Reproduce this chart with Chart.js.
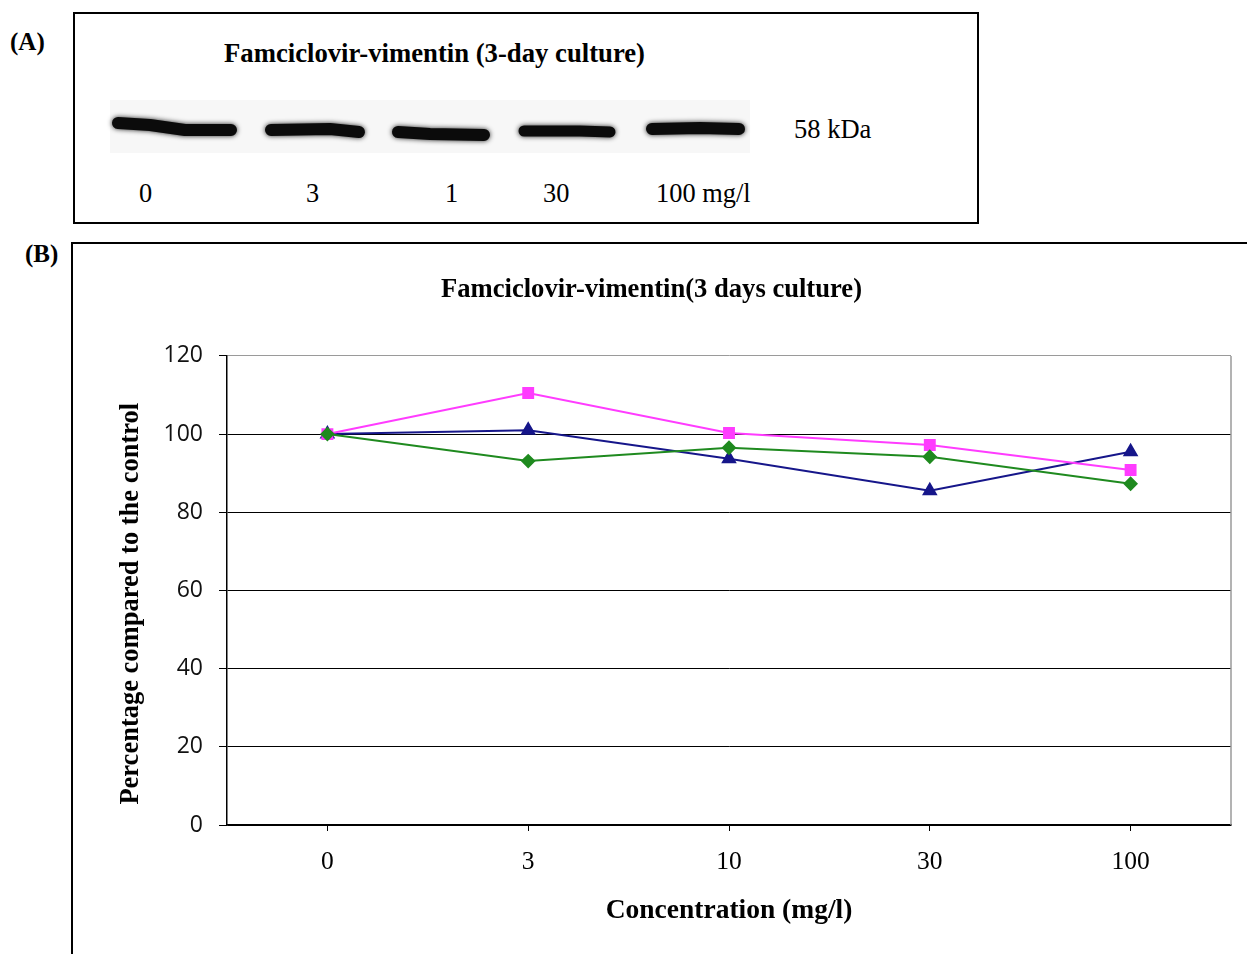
<!DOCTYPE html>
<html>
<head>
<meta charset="utf-8">
<script src="https://cdn.jsdelivr.net/npm/chart.js@4.4.1/dist/chart.umd.min.js"></script>
<style>
  html, body { margin:0; padding:0; background:#fff; width:1247px; height:954px; overflow:hidden; }
  body { position:relative; font-family:"Liberation Serif","Times New Roman",serif; color:#000; }
  .lbl { position:absolute; white-space:nowrap; line-height:1; transform:translateY(-50%); }
  .bold { font-weight:bold; }
  #boxA { position:absolute; left:73px; top:12px; width:902px; height:208px; border:2px solid #000; }
  #blot { position:absolute; left:100px; top:90px; }
  #panelB { position:absolute; left:72px; top:243px; width:1175px; height:711px; }
  #lineTop { position:absolute; left:71px; top:242px; width:1176px; height:2px; background:#000; }
  #lineLeft { position:absolute; left:71px; top:242px; width:2px; height:712px; background:#000; }
</style>
</head>
<body>
<div id="boxA"></div>
<canvas id="blot" width="670" height="75"></canvas>
<div class="lbl bold" style="left:10px;top:41px;font-size:25px;">(A)</div>
<div class="lbl bold" style="left:224px;top:53px;font-size:26.7px;">Famciclovir-vimentin (3-day culture)</div>
<div class="lbl" style="left:794px;top:129px;font-size:26.5px;">58 kDa</div>
<div id="laneLabels"></div>
<div class="lbl bold" style="left:25px;top:253px;font-size:25px;">(B)</div>
<div id="lineTop"></div>
<div id="lineLeft"></div>
<div id="panelB"><canvas id="c" width="1175" height="711"></canvas></div>
<script>
// ---- data ----
const categories = ['0', '3', '10', '30', '100'];
const seriesGreen = [100, 93.1, 96.5, 94.2, 87.3];
const seriesPink  = [100, 110.5, 100.3, 97.2, 90.8];
const seriesBlue  = [100, 101.0, 93.7, 85.5, 95.5];
const yTickMin = 0, yTickMax = 120, yTickStep = 20;
const blotLaneLabels = ['0', '3', '1', '30', '100 mg/l'];

// ---- panel A lane labels and blot bands (image-like decoration) ----
const laneLabelX = [139, 306, 445, 543, 656];
const laneBox = document.getElementById('laneLabels');
blotLaneLabels.forEach((t, i) => {
  const d = document.createElement('div');
  d.className = 'lbl';
  d.style.left = laneLabelX[i] + 'px';
  d.style.top = '193px';
  d.style.fontSize = '26.4px';
  d.textContent = t;
  laneBox.appendChild(d);
});
(function drawBlot() {
  const cv = document.getElementById('blot');
  const ctx = cv.getContext('2d');
  const ox = 100, oy = 90;
  ctx.fillStyle = '#f7f7f7';
  ctx.fillRect(110 - ox, 100 - oy, 640, 53);
  const bands = [
    [[[118, 123], [150, 125], [185, 130], [231, 130]], 12],
    [[[271, 130], [330, 129], [359, 132]], 12],
    [[[398, 132], [430, 134], [484, 135]], 12],
    [[[524, 131], [580, 131], [610, 132]], 11],
    [[[652, 129], [700, 128], [739, 129]], 12]
  ];
  ctx.lineCap = 'round';
  ctx.lineJoin = 'round';
  ctx.strokeStyle = '#0b0b0b';
  ctx.shadowColor = 'rgba(0,0,0,0.85)';
  ctx.shadowBlur = 5;
  bands.forEach(([pts, w]) => {
    ctx.lineWidth = w;
    ctx.beginPath();
    pts.forEach(([x, y], i) => i ? ctx.lineTo(x - ox, y - oy) : ctx.moveTo(x - ox, y - oy));
    ctx.stroke();
  });
})();

// ---- chart ----
const frame = {
  id: 'frame',
  afterDraw(chart) {
    const {ctx, chartArea: a} = chart;
    ctx.save();
    ctx.strokeStyle = '#9a9a9a';
    ctx.lineWidth = 1.5;
    ctx.beginPath();
    ctx.moveTo(a.right, a.top);
    ctx.lineTo(a.right, a.bottom);
    ctx.stroke();
    ctx.restore();
  }
};

new Chart(document.getElementById('c'), {
  type: 'line',
  data: {
    labels: categories,
    datasets: [
      { label: 'Series 1', data: seriesGreen, borderColor: '#1f8a1f', backgroundColor: '#1f8a1f',
        borderWidth: 2, pointStyle: 'rectRot', pointRadius: 6, pointHoverRadius: 6, tension: 0 },
      { label: 'Series 2', data: seriesPink, borderColor: '#ff3cff', backgroundColor: '#ff3cff',
        borderWidth: 2, pointStyle: 'rect', pointRadius: 7, pointHoverRadius: 7, tension: 0 },
      { label: 'Series 3', data: seriesBlue, borderColor: '#16168a', backgroundColor: '#16168a',
        borderWidth: 2, pointStyle: 'triangle', pointRadius: 7, pointHoverRadius: 7, tension: 0 }
    ]
  },
  options: {
    responsive: false,
    animation: false,
    events: [],
    layout: { padding: { left: 0, right: 16, top: 0, bottom: 0 } },
    plugins: {
      legend: { display: false },
      tooltip: { enabled: false },
      title: {
        display: true,
        text: 'Famciclovir-vimentin(3 days culture)',
        color: '#000',
        font: { family: 'Liberation Serif', size: 26.6, weight: 'bold', lineHeight: 1.2 },
        padding: { top: 31, bottom: 50 }
      }
    },
    scales: {
      x: {
        type: 'category',
        offset: true,
        afterFit(s) { s.height = 129; },
        grid: { drawOnChartArea: false, drawTicks: true, tickLength: 6, color: '#000', offset: false },
        border: { display: true, color: '#000', width: 1.5 },
        ticks: { color: '#000', padding: 16, font: { family: 'Liberation Serif', size: 25.5 } },
        title: { display: true, text: 'Concentration (mg/l)', color: '#000',
          font: { family: 'Liberation Serif', size: 27.5, weight: 'bold', lineHeight: 1.2 },
          padding: { top: 0, bottom: 27 } }
      },
      y: {
        min: yTickMin, max: yTickMax,
        afterFit(s) { s.width = 155; },
        grid: { color: (c) => (c.tick && c.tick.value === yTickMax) ? '#9a9a9a' : '#000',
          tickColor: '#000', lineWidth: 1, tickLength: 8, drawTicks: true },
        border: { display: true, color: '#000', width: 1.5 },
        ticks: { stepSize: yTickStep, color: '#111', padding: 16,
          font: { family: 'Open Sans', size: 23 } },
        title: { display: true, text: 'Percentage compared to the control    ', color: '#000',
          font: { family: 'Liberation Serif', size: 26.5, weight: 'bold', lineHeight: 1.2 },
          padding: { top: 43, bottom: 0 } }
      }
    }
  },
  plugins: [frame]
});
</script>
</body>
</html>
